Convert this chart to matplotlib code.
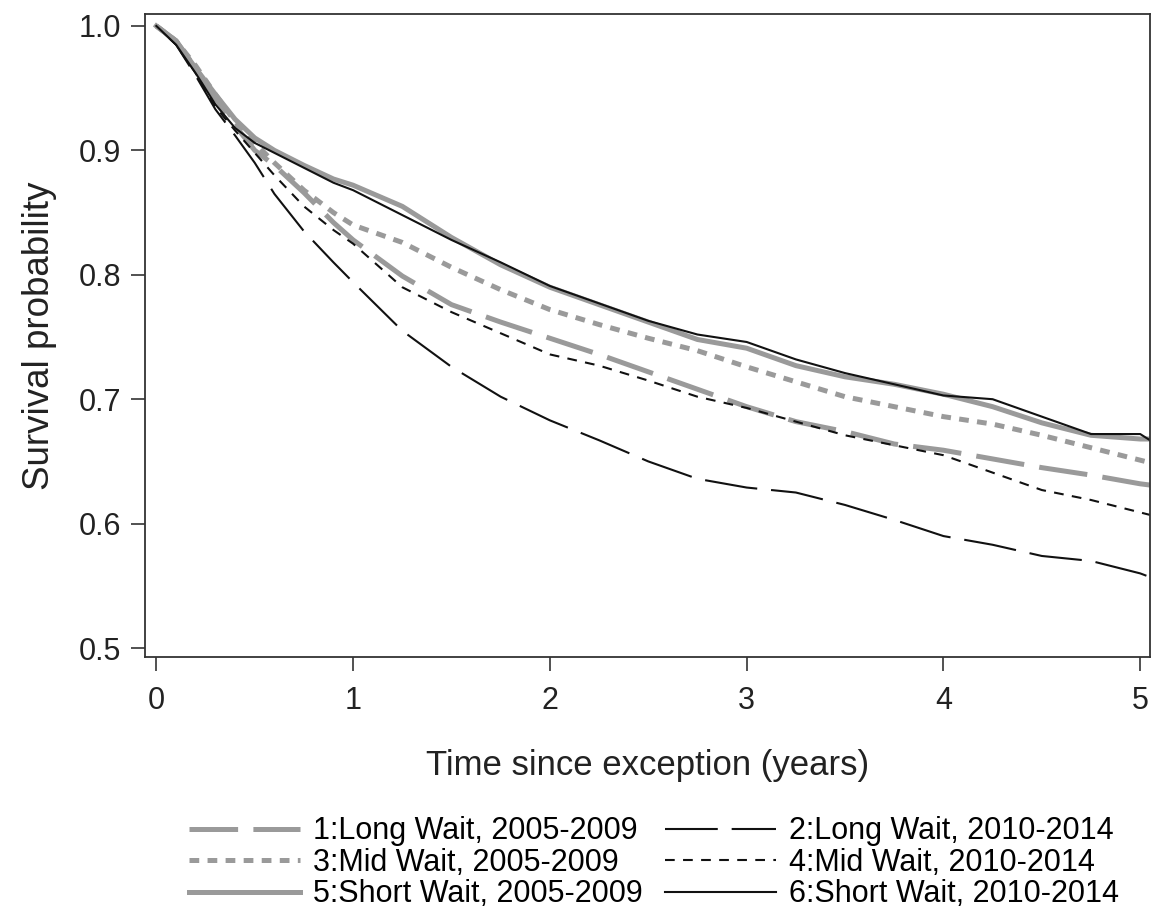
import numpy as np
import matplotlib
matplotlib.use('Agg')
import matplotlib.pyplot as plt

plt.rcParams['font.family'] = ['Liberation Sans', 'DejaVu Sans']
plt.rcParams['lines.scale_dashes'] = False

# Tiempo (años) y probabilidades de supervivencia
tiempo = [0, 0.1, 0.2, 0.3, 0.4, 0.5, 0.6, 0.75, 0.9, 1.0, 1.25, 1.5, 1.75,
          2.0, 2.25, 2.5, 2.75, 3.0, 3.25, 3.5, 3.75, 4.0, 4.25, 4.5, 4.75,
          5.0, 5.05]

larga_0509 = [1.0, 0.988, 0.966, 0.942, 0.920, 0.900, 0.888, 0.866, 0.842,
              0.828, 0.799, 0.776, 0.762, 0.749, 0.736, 0.722, 0.708, 0.694,
              0.682, 0.674, 0.664, 0.659, 0.652, 0.645, 0.639, 0.632, 0.631]
larga_1014 = [1.0, 0.985, 0.960, 0.933, 0.912, 0.890, 0.865, 0.835, 0.810,
              0.794, 0.755, 0.726, 0.702, 0.683, 0.667, 0.650, 0.636, 0.629,
              0.625, 0.615, 0.603, 0.590, 0.583, 0.574, 0.570, 0.560, 0.557]
media_0509 = [1.0, 0.988, 0.968, 0.945, 0.923, 0.906, 0.890, 0.868, 0.850,
              0.840, 0.826, 0.806, 0.788, 0.772, 0.760, 0.749, 0.739, 0.726,
              0.714, 0.702, 0.694, 0.686, 0.680, 0.671, 0.661, 0.651, 0.649]
media_1014 = [1.0, 0.985, 0.962, 0.935, 0.916, 0.898, 0.880, 0.855, 0.836,
              0.825, 0.790, 0.770, 0.753, 0.736, 0.727, 0.715, 0.702, 0.693,
              0.682, 0.671, 0.663, 0.655, 0.641, 0.627, 0.619, 0.609, 0.607]
corta_0509 = [1.0, 0.988, 0.966, 0.945, 0.925, 0.910, 0.900, 0.888, 0.877,
              0.872, 0.855, 0.830, 0.808, 0.790, 0.776, 0.762, 0.748, 0.741,
              0.727, 0.718, 0.712, 0.704, 0.694, 0.681, 0.671, 0.668, 0.668]
corta_1014 = [1.0, 0.985, 0.962, 0.937, 0.918, 0.906, 0.898, 0.886, 0.874,
              0.868, 0.848, 0.828, 0.810, 0.791, 0.777, 0.763, 0.752, 0.746,
              0.732, 0.721, 0.712, 0.703, 0.700, 0.686, 0.672, 0.672, 0.667]

etiquetas = ['1:Long Wait, 2005-2009', '2:Long Wait, 2010-2014',
             '3:Mid Wait, 2005-2009', '4:Mid Wait, 2010-2014',
             '5:Short Wait, 2005-2009', '6:Short Wait, 2010-2014']

gris = '#9a9a9a'
negro = '#111111'

fig = plt.figure(figsize=(11.55, 9.23), dpi=100)
ax = fig.add_axes([0.1255, 0.2882, 0.8702, 0.6966])

# grises primero, negros encima
l1, = ax.plot(tiempo, larga_0509, color=gris, lw=3.6, dashes=(35, 11), label=etiquetas[0])
l2, = ax.plot(tiempo, larga_1014, color=negro, lw=1.5, dashes=(38, 10), label=etiquetas[1])
l3, = ax.plot(tiempo, media_0509, color=gris, lw=3.6, dashes=(7, 6), label=etiquetas[2])
l4, = ax.plot(tiempo, media_1014, color=negro, lw=1.5, dashes=(7, 6), label=etiquetas[3])
l5, = ax.plot(tiempo, corta_0509, color=gris, lw=3.6, label=etiquetas[4])
l6, = ax.plot(tiempo, corta_1014, color=negro, lw=1.5, label=etiquetas[5])

ax.set_xlim(-0.058, 5.05)
ax.set_ylim(0.4928, 1.0096)
ax.set_xticks([0, 1, 2, 3, 4, 5])
ax.set_yticks([0.5, 0.6, 0.7, 0.8, 0.9, 1.0])
ax.set_yticklabels(['0.5', '0.6', '0.7', '0.8', '0.9', '1.0'])

for s in ax.spines.values():
    s.set_color('#333333')
    s.set_linewidth(1.3)
ax.tick_params(direction='out', length=10, width=1.2, color='#333333',
               labelsize=22, pad=7, labelcolor='#222222')
ax.tick_params(axis='x', pad=11)

ax.set_xlabel('Time since exception (years)', fontsize=25, labelpad=24, color='#222222')
ax.set_ylabel('Survival probability', fontsize=26.5, labelpad=16, color='#222222')

# leyenda por filas: el orden de columnas de matplotlib va por columna
orden = [l1, l3, l5, l2, l4, l6]
ax.legend(orden, [h.get_label() for h in orden],
          loc='upper left', bbox_to_anchor=(0.1636, 0.1155),
          bbox_transform=fig.transFigure, ncol=2, frameon=False,
          fontsize=22, handlelength=3.63, handletextpad=0.42,
          columnspacing=0.75, labelspacing=0.05, borderpad=0,
          borderaxespad=0)

plt.savefig('out.png', dpi=100)
